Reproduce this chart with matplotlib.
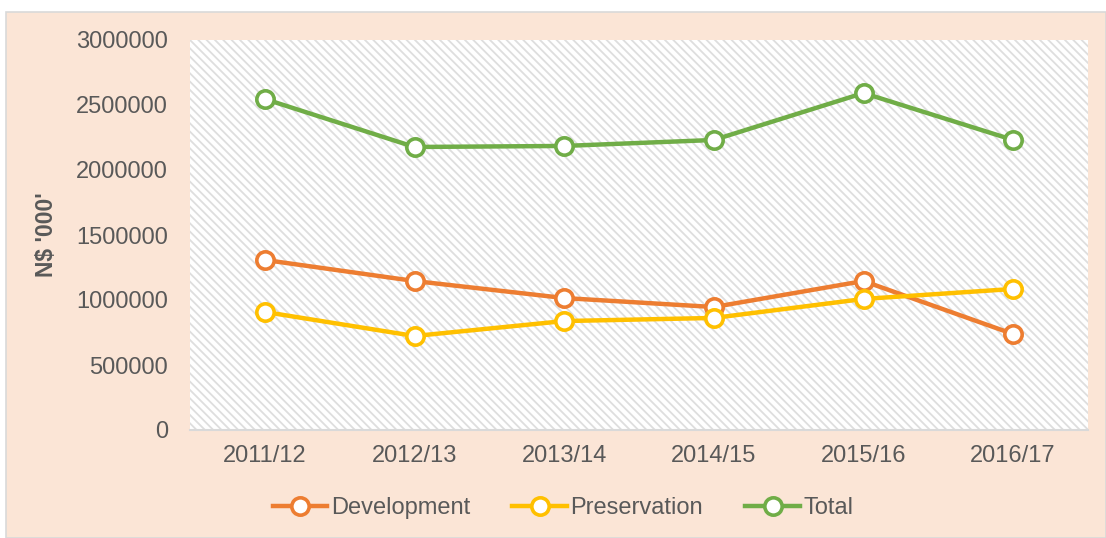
import matplotlib.pyplot as plt
from matplotlib.patches import Rectangle
from matplotlib.ticker import FuncFormatter

years = ["2011/12", "2012/13", "2013/14", "2014/15", "2015/16", "2016/17"]
development = [1308000, 1146000, 1015000, 946000, 1146000, 738000]
preservation = [908000, 723000, 838000, 862000, 1008000, 1085000]
total = [2546000, 2177000, 2185000, 2231000, 2592000, 2231000]

plt.rcParams['font.family'] = ['Liberation Sans', 'DejaVu Sans']
plt.rcParams['hatch.linewidth'] = 1.3

fig = plt.figure(figsize=(11.06, 5.38), dpi=100, facecolor='white')
# peach chart frame
fig.patches.append(Rectangle((6/1106, 0), 1 - 6/1106, (538-12)/538, transform=fig.transFigure,
                             facecolor='#fbe5d6', edgecolor='#d9d9d9', linewidth=1.2, zorder=-10))

ax = fig.add_axes([190/1106, 108/538, 898/1106, 390/538])
ax.set_facecolor('white')
ax.add_patch(Rectangle((0, 0), 1, 1, transform=ax.transAxes, facecolor='white',
                       edgecolor='#dedede', linewidth=0, hatch='\\\\\\\\', zorder=0))

x = range(len(years))
series = [("Development", development, '#ed7d31'),
          ("Preservation", preservation, '#ffc000'),
          ("Total", total, '#70ad47')]
for name, vals, col in series:
    ax.plot(x, vals, color=col, lw=3.2, marker='o', ms=12.5, mfc='white', mec=col, mew=2.6,
            label=name, zorder=3)

ax.set_xlim(-0.5, 5.5)
ax.set_ylim(0, 3000000)
ax.set_yticks(range(0, 3000001, 500000))
ax.yaxis.set_major_formatter(FuncFormatter(lambda v, p: "%d" % v))
ax.set_xticks(list(x))
ax.set_xticklabels(years)
ax.tick_params(length=0, labelsize=17, labelcolor='#595959', pad=11)
ax.tick_params(axis='y', pad=16)
for s in ['left', 'top', 'right']:
    ax.spines[s].set_visible(False)
ax.spines['bottom'].set_color('#d9d9d9')
ax.spines['bottom'].set_linewidth(1.5)
ax.set_ylabel("N\\$ '000'", fontsize=16.5, fontweight='bold', color='#595959', labelpad=13)

h, l = ax.get_legend_handles_labels()
leg = fig.legend(h, l, loc='center', bbox_to_anchor=(563/1106, 1 - 508/538), ncol=3, frameon=False,
                 fontsize=17, handlelength=2.3, columnspacing=1.8, handletextpad=0.15)
for t in leg.get_texts():
    t.set_color('#595959')

fig.savefig('out.png', dpi=100, facecolor=fig.get_facecolor())
